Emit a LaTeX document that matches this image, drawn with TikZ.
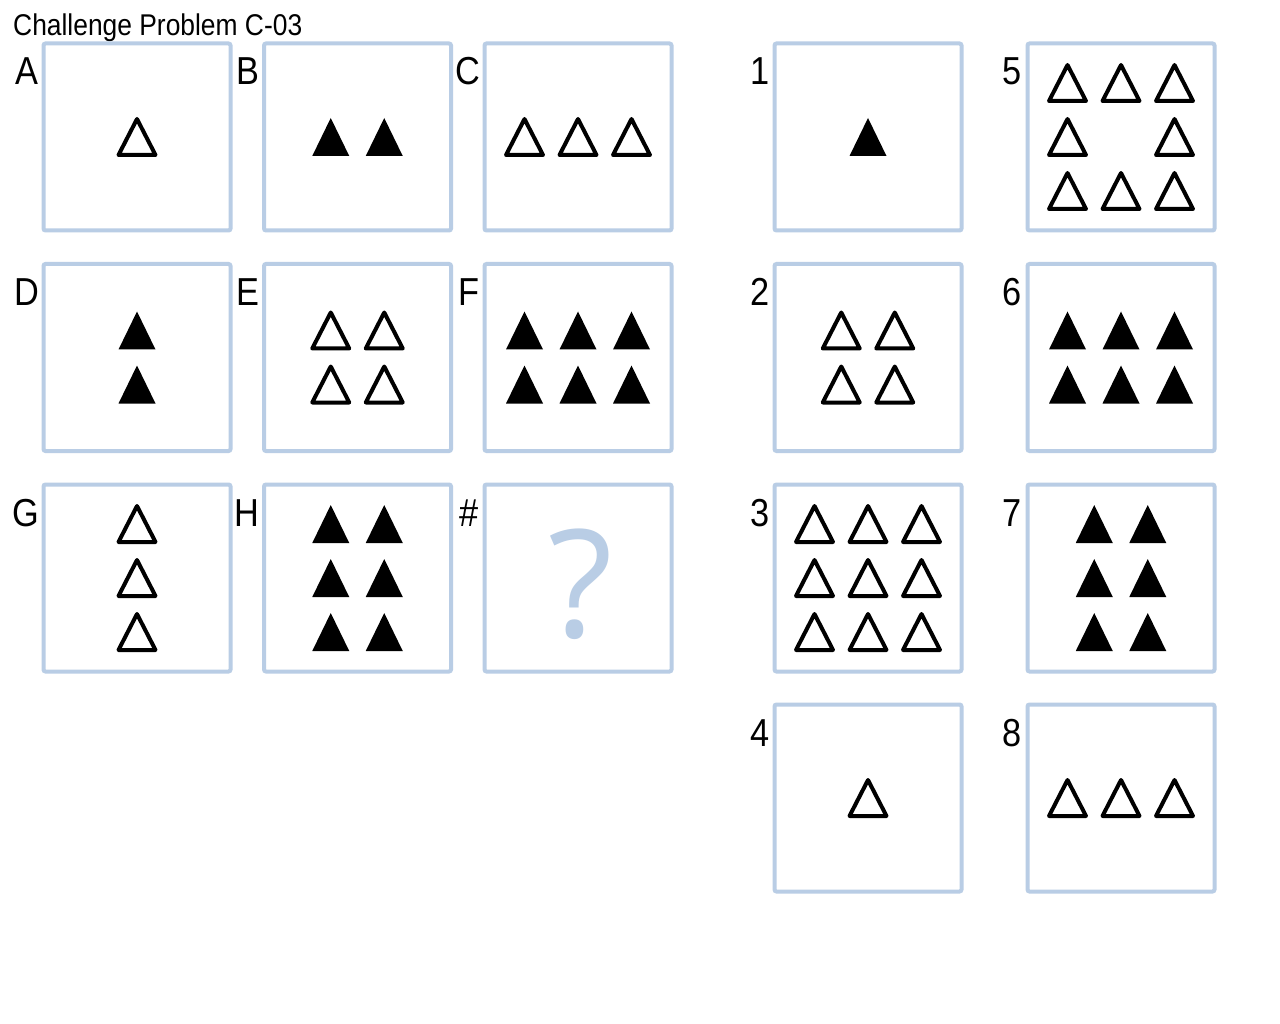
\documentclass[tikz,border=0pt]{standalone}
\usepackage{fontspec}
\setmainfont[FakeStretch=0.88]{Liberation Sans}
\newfontfamily\qfont{Open Sans}
\definecolor{cardblue}{RGB}{185,205,229}
\tikzset{
  card/.style={draw=cardblue, line width=4pt, minimum size=187pt, inner sep=0pt, rounded corners=2pt},
  lbl/.style={anchor=base east, inner sep=0pt, font=\fontsize{39}{39}\selectfont},
  hollowtri/.pic={\draw[line width=4pt, line join=round] (0,-18) -- (18.5,18) -- (-18.5,18) -- cycle;},
  solidtri/.pic={\fill (0,-19) -- (18.5,19) -- (-18.5,19) -- cycle;}
}
\begin{document}
\begin{tikzpicture}[x=1pt,y=-1pt]
\useasboundingbox[fill=white] (0,0) rectangle (1280,1024);
\node[anchor=base west, inner sep=0pt, font=\fontsize{30}{30}\selectfont] (title) at (13,36) {Challenge Problem C-03};

% left matrix
\node[card] (A) at (137,137) {};
\node[card] (B) at (357.5,137) {};
\node[card] (C) at (578,137) {};
\node[card] (D) at (137,357.5) {};
\node[card] (E) at (357.5,357.5) {};
\node[card] (F) at (578,357.5) {};
\node[card] (G) at (137,578) {};
\node[card] (H) at (357.5,578) {};
\node[card] (Q) at (578,578) {};
\node[lbl] (labA) at (39,85) {A};
\node[lbl] (labB) at (259.5,85) {B};
\node[lbl] (labC) at (480,85) {C};
\node[lbl] (labD) at (39,305.5) {D};
\node[lbl] (labE) at (259.5,305.5) {E};
\node[lbl] (labF) at (480,305.5) {F};
\node[lbl] (labG) at (39.5,526) {G};
\node[lbl] (labH) at (259.5,526) {H};
\node[lbl] (labQ) at (479,526) {\#};
\node[anchor=base, inner sep=0pt, text=cardblue, font=\qfont\fontsize{150}{150}\selectfont] (qmark) at (581,637) {?};

% answer cards
\node[card] (c1) at (868,137) {};
\node[card] (c2) at (868,357.5) {};
\node[card] (c3) at (868,578) {};
\node[card] (c4) at (868,798) {};
\node[card] (c5) at (1121,137) {};
\node[card] (c6) at (1121,357.5) {};
\node[card] (c7) at (1121,578) {};
\node[card] (c8) at (1121,798) {};
\node[lbl] (lab1) at (769.5,85) {1};
\node[lbl] (lab2) at (769.5,305.5) {2};
\node[lbl] (lab3) at (769.5,526) {3};
\node[lbl] (lab4) at (769.5,746) {4};
\node[lbl] (lab5) at (1022,85) {5};
\node[lbl] (lab6) at (1022,305.5) {6};
\node[lbl] (lab7) at (1022,526) {7};
\node[lbl] (lab8) at (1022,746) {8};

% triangles
\pic at (A) {hollowtri};
\foreach \dx in {-26.75,26.75} \pic at ([shift={(\dx,0)}]B) {solidtri};
\foreach \dx in {-53.5,0,53.5} \pic at ([shift={(\dx,0)}]C) {hollowtri};
\foreach \dy in {-27,27} \pic at ([shift={(0,\dy)}]D) {solidtri};
\foreach \dx in {-26.75,26.75} \foreach \dy in {-27,27} \pic at ([shift={(\dx,\dy)}]E) {hollowtri};
\foreach \dx in {-53.5,0,53.5} \foreach \dy in {-27,27} \pic at ([shift={(\dx,\dy)}]F) {solidtri};
\foreach \dy in {-54,0,54} \pic at ([shift={(0,\dy)}]G) {hollowtri};
\foreach \dx in {-26.75,26.75} \foreach \dy in {-54,0,54} \pic at ([shift={(\dx,\dy)}]H) {solidtri};

\pic at (c1) {solidtri};
\foreach \dx in {-26.75,26.75} \foreach \dy in {-27,27} \pic at ([shift={(\dx,\dy)}]c2) {hollowtri};
\foreach \dx in {-53.5,0,53.5} \foreach \dy in {-54,0,54} \pic at ([shift={(\dx,\dy)}]c3) {hollowtri};
\pic at (c4) {hollowtri};
\foreach \dx/\dy in {-53.5/-54,0/-54,53.5/-54,-53.5/0,53.5/0,-53.5/54,0/54,53.5/54} \pic at ([shift={(\dx,\dy)}]c5) {hollowtri};
\foreach \dx in {-53.5,0,53.5} \foreach \dy in {-27,27} \pic at ([shift={(\dx,\dy)}]c6) {solidtri};
\foreach \dx in {-26.75,26.75} \foreach \dy in {-54,0,54} \pic at ([shift={(\dx,\dy)}]c7) {solidtri};
\foreach \dx in {-53.5,0,53.5} \pic at ([shift={(\dx,0)}]c8) {hollowtri};
\end{tikzpicture}
\end{document}
